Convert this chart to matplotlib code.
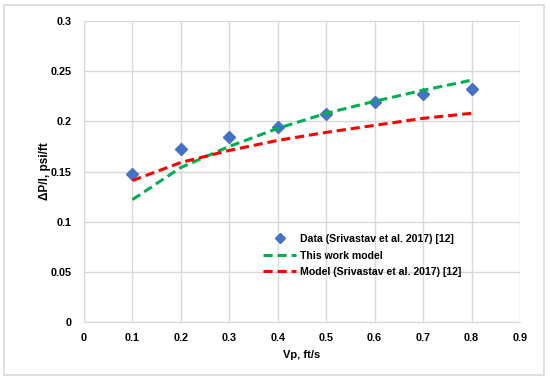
import matplotlib
matplotlib.use("Agg")
import matplotlib.pyplot as plt
from matplotlib.patches import Rectangle

vp = [0.1, 0.2, 0.3, 0.4, 0.5, 0.6, 0.7, 0.8]
data = [0.148, 0.172, 0.184, 0.194, 0.207, 0.219, 0.227, 0.232]
this_model = [0.122, 0.154, 0.175, 0.193, 0.208, 0.220, 0.231, 0.241]
sriv_model = [0.141, 0.159, 0.171, 0.181, 0.189, 0.196, 0.203, 0.208]

xticks = [0, 0.1, 0.2, 0.3, 0.4, 0.5, 0.6, 0.7, 0.8, 0.9]
xtick_labels = ["0", "0.1", "0.2", "0.3", "0.4", "0.5", "0.6", "0.7", "0.8", "0.9"]
yticks = [0, 0.05, 0.1, 0.15, 0.2, 0.25, 0.3]
ytick_labels = ["0", "0.05", "0.1", "0.15", "0.2", "0.25", "0.3"]

plt.rcParams['font.family'] = ['Liberation Sans', 'DejaVu Sans']
plt.rcParams['font.weight'] = 'bold'

W, H = 550, 380
fig = plt.figure(figsize=(W / 100, H / 100), dpi=100)
fig.patches.append(Rectangle((4 / W, 5 / H), 540 / W, 370 / H, transform=fig.transFigure,
                             fill=False, edgecolor="#d9d9d9", linewidth=1.2))

ax = fig.add_axes([84 / W, 58 / H, 436 / W, 301 / H])
ax.set_xlim(0, 0.9)
ax.set_ylim(0, 0.3)
ax.set_xticks(xticks)
ax.set_xticklabels(xtick_labels)
ax.set_yticks(yticks)
ax.set_yticklabels(ytick_labels)
ax.grid(True, color="#d9d9d9", linewidth=1)
ax.set_axisbelow(True)
for side in ["top", "right"]:
    ax.spines[side].set_visible(False)
for side in ["left", "bottom"]:
    ax.spines[side].set_color("#d9d9d9")
ax.tick_params(length=0, labelsize=7.8, colors="#000000")
ax.tick_params(axis="y", pad=9)
ax.tick_params(axis="x", pad=8)

ax.plot(vp, data, linestyle="none", marker="D", markersize=6, color="#4472C4",
        label="Data (Srivastav et al. 2017) [12]")
ax.plot(vp, this_model, linestyle=(0, (3, 1.6)), linewidth=2.2, color="#00B050",
        label="This work model")
ax.plot(vp, sriv_model, linestyle=(0, (3, 1.6)), linewidth=2.2, color="#FF0000",
        label="Model (Srivastav et al. 2017) [12]")

ax.set_xlabel("Vp, ft/s", fontsize=8, fontweight="bold", labelpad=5)
ax.set_ylabel("ΔP/l, psi/ft", fontsize=8.5, fontweight="bold")
ax.yaxis.set_label_coords(-33 / 436, 0.5)

leg = ax.legend(loc="lower left", bbox_to_anchor=(0.40, 0.135), frameon=False,
                fontsize=7.6, handlelength=3.2, handletextpad=0.3, labelspacing=0.62,
                borderaxespad=0, markerscale=0.8)
for t in leg.get_texts():
    t.set_fontweight("bold")

fig.savefig("out.png", dpi=100, facecolor="white")
